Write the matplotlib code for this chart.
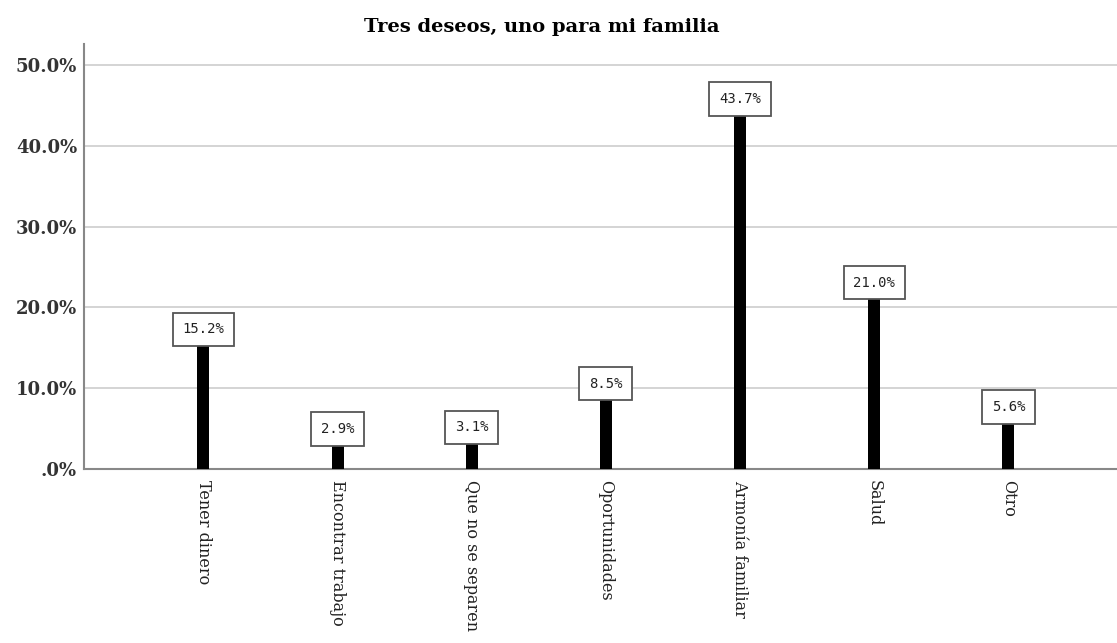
import matplotlib
matplotlib.use("Agg")
import matplotlib.pyplot as plt
from matplotlib.ticker import FuncFormatter

# data
categories = ["Tener dinero", "Encontrar trabajo", "Que no se separen",
              "Oportunidades", "Armonía familiar", "Salud", "Otro"]
percents = [15.2, 2.9, 3.1, 8.5, 43.7, 21.0, 5.6]
y_ticks = [0, 10, 20, 30, 40, 50]

fig = plt.figure(figsize=(11.17, 6.43), dpi=100)
ax = fig.add_axes([0.0752, 0.2706, 0.9248, 0.661])

x = list(range(len(categories)))
ax.bar(x, percents, width=0.09, color="black", zorder=3)

# value boxes sitting on top of each bar
for xi, v in zip(x, percents):
    ax.annotate(f"{v:.1f}%", (xi, v), xytext=(0, 7), textcoords="offset points",
                ha="center", va="bottom", fontsize=10, family="DejaVu Sans Mono",
                color="#222222", zorder=4,
                bbox=dict(boxstyle="square,pad=0.7", fc="white", ec="#555555", lw=1.3))

ax.set_xlim(-0.89, 6.81)
ax.set_ylim(0, 52.6)
ax.set_yticks(y_ticks)
ax.yaxis.set_major_formatter(FuncFormatter(lambda v, p: f"{v:.1f}%".lstrip("0") if v < 1 else f"{v:.1f}%"))
ax.grid(axis="y", color="#d4d4d4", lw=1.4, zorder=0)

ax.set_xticks(x)
ax.set_xticklabels(categories, rotation=-90, fontsize=11.5, family="DejaVu Serif",
                   va="top", ha="center", color="#222222")
for lbl in ax.get_yticklabels():
    lbl.set_fontfamily("DejaVu Serif")
    lbl.set_fontweight("bold")
    lbl.set_fontsize(13)
    lbl.set_color("#333333")

ax.tick_params(axis="y", length=0, pad=5)
ax.tick_params(axis="x", length=0, pad=8)
for side in ["top", "right"]:
    ax.spines[side].set_visible(False)
for side in ["left", "bottom"]:
    ax.spines[side].set_color("#888888")
    ax.spines[side].set_linewidth(1.5)

fig.text(0.485, 0.958, "Tres deseos, uno para mi familia", ha="center", va="center",
         fontsize=14, fontweight="bold", family="DejaVu Serif")

fig.savefig("out.png", dpi=100, facecolor="white")
